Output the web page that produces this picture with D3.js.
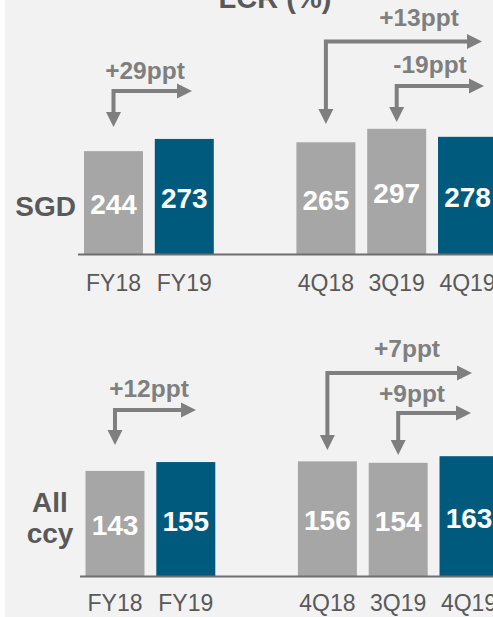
<!DOCTYPE html>
<html>
<head>
<meta charset="utf-8">
<script src="https://cdnjs.cloudflare.com/ajax/libs/d3/7.8.5/d3.min.js"></script>
<style>
  html, body { margin: 0; padding: 0; background: #fff; }
  svg { display: block; font-family: "Liberation Sans", Arial, sans-serif; }
</style>
</head>
<body>
<svg id="chart" width="493" height="617"></svg>
<script>
// categories ("" is the empty gap slot between annual and quarterly bars)
var categories = ["FY18", "FY19", "", "4Q18", "3Q19", "4Q19"]
var highlight = ["FY19", "4Q19"]

// LCR values
var sgdValues = [244, 273, null, 265, 297, 278]
var allCcyValues = [143, 155, null, 156, 154, 163]

// change annotations
var sgdChangeFrom = ["FY18", "4Q18", "3Q19"]
var sgdChangeText = ["+29ppt", "+13ppt", "-19ppt"]
var ccyChangeFrom = ["FY18", "4Q18", "3Q19"]
var ccyChangeText = ["+12ppt", "+7ppt", "+9ppt"]

var GREY = "#a6a6a6", BLUE = "#005a7e", TEXT = "#595959", ARROW = "#7f7f7f"

var svg = d3.select("#chart")

svg.append("rect")
  .attr("x", 5).attr("y", 0)
  .attr("width", 488).attr("height", 617)
  .attr("fill", "#f2f2f2")

svg.append("text")
  .attr("x", 275).attr("y", 8)
  .attr("text-anchor", "middle")
  .style("font-size", "29px").style("font-weight", "bold")
  .attr("fill", TEXT)
  .text("LCR (%)")

// layout of each panel; arrow layout: [horizontal y, vertical tip y, horizontal tip x, label x, label y]
var panels = [
  {
    values: sgdValues, from: sgdChangeFrom, text: sgdChangeText,
    x0: 84, base: 254, pxPerUnit: 0.4215, lineX0: 78, labelY: 291,
    rowLabel: ["SGD"], rowX: 76, rowAnchor: "end", rowY: [216],
    arrows: [[91, 127, 192, 145, 79], [41.5, 124, 482, 419, 26], [86, 122, 484, 430, 73]]
  },
  {
    values: allCcyValues, from: ccyChangeFrom, text: ccyChangeText,
    x0: 85.5, base: 576, pxPerUnit: 0.735, lineX0: 80, labelY: 611,
    rowLabel: ["All", "ccy"], rowX: 50, rowAnchor: "middle", rowY: [511.5, 543],
    arrows: [[410, 445, 196, 149, 397], [373, 450, 472, 407, 357], [413, 455, 471, 412, 402]]
  }
]

panels.forEach(function(p) {
  var x = d3.scaleBand()
    .domain(categories)
    .range([p.x0, p.x0 + 6 * 70.8 - 11.8])
    .paddingInner(0.167)
    .paddingOuter(0)

  var y = d3.scaleLinear()
    .domain([0, 100])
    .range([p.base, p.base - 100 * p.pxPerUnit])

  var data = categories.map(function(c, i) { return {cat: c, v: p.values[i]} })
    .filter(function(d) { return d.v != null })

  var g = svg.append("g")

  g.selectAll(".bar")
    .data(data)
    .enter().append("rect")
    .attr("class", "bar")
    .attr("x", function(d) { return x(d.cat) })
    .attr("y", function(d) { return y(d.v) })
    .attr("width", x.bandwidth())
    .attr("height", function(d) { return y(0) - y(d.v) })
    .attr("fill", function(d) { return highlight.indexOf(d.cat) >= 0 ? BLUE : GREY })

  g.selectAll(".val")
    .data(data)
    .enter().append("text")
    .attr("class", "val")
    .attr("x", function(d) { return x(d.cat) + x.bandwidth() / 2 })
    .attr("y", function(d) { return (y(d.v) + y(0)) / 2 + 11.5 })
    .attr("text-anchor", "middle")
    .style("font-size", "28px").style("font-weight", "bold")
    .attr("fill", "#fff")
    .text(function(d) { return d.v })

  // baseline
  g.append("line")
    .attr("x1", p.lineX0).attr("x2", 493)
    .attr("y1", y(0) + 0.5).attr("y2", y(0) + 0.5)
    .attr("stroke", "#6e6e6e").attr("stroke-width", 2)

  // category labels
  var axis = g.append("g")
    .attr("transform", "translate(0," + p.labelY + ")")
    .call(d3.axisBottom(x).tickSize(0))
  axis.select(".domain").remove()
  axis.selectAll("text")
    .attr("y", 0).attr("dy", 0)
    .attr("fill", TEXT)
    .style("font-size", "23px")
    .style("font-family", "'Liberation Sans', Arial, sans-serif")

  // row label
  g.selectAll(".row")
    .data(p.rowLabel)
    .enter().append("text")
    .attr("x", p.rowX)
    .attr("y", function(d, i) { return p.rowY[i] })
    .attr("text-anchor", p.rowAnchor)
    .style("font-size", "28px").style("font-weight", "bold")
    .attr("fill", TEXT)
    .text(function(d) { return d })

  // change arrows
  p.from.forEach(function(c, i) {
    var a = p.arrows[i]
    var vx = x(c) + x.bandwidth() / 2
    var hy = a[0], tipY = a[1], tipX = a[2]
    g.append("path")
      .attr("d", "M" + vx + "," + (tipY - 12) + "V" + hy + "H" + (tipX - 12))
      .attr("fill", "none")
      .attr("stroke", ARROW).attr("stroke-width", 4)
      .attr("stroke-linejoin", "miter")
    g.append("path")
      .attr("d", "M" + (vx - 7.5) + "," + (tipY - 15) + "L" + (vx + 7.5) + "," + (tipY - 15) + "L" + vx + "," + tipY + "Z")
      .attr("fill", ARROW)
    g.append("path")
      .attr("d", "M" + (tipX - 15) + "," + (hy - 7.5) + "L" + (tipX - 15) + "," + (hy + 7.5) + "L" + tipX + "," + hy + "Z")
      .attr("fill", ARROW)
    g.append("text")
      .attr("x", a[3]).attr("y", a[4])
      .attr("text-anchor", "middle")
      .style("font-size", "24.5px").style("font-weight", "bold")
      .attr("fill", ARROW)
      .text(p.text[i])
  })
})
</script>
</body>
</html>
